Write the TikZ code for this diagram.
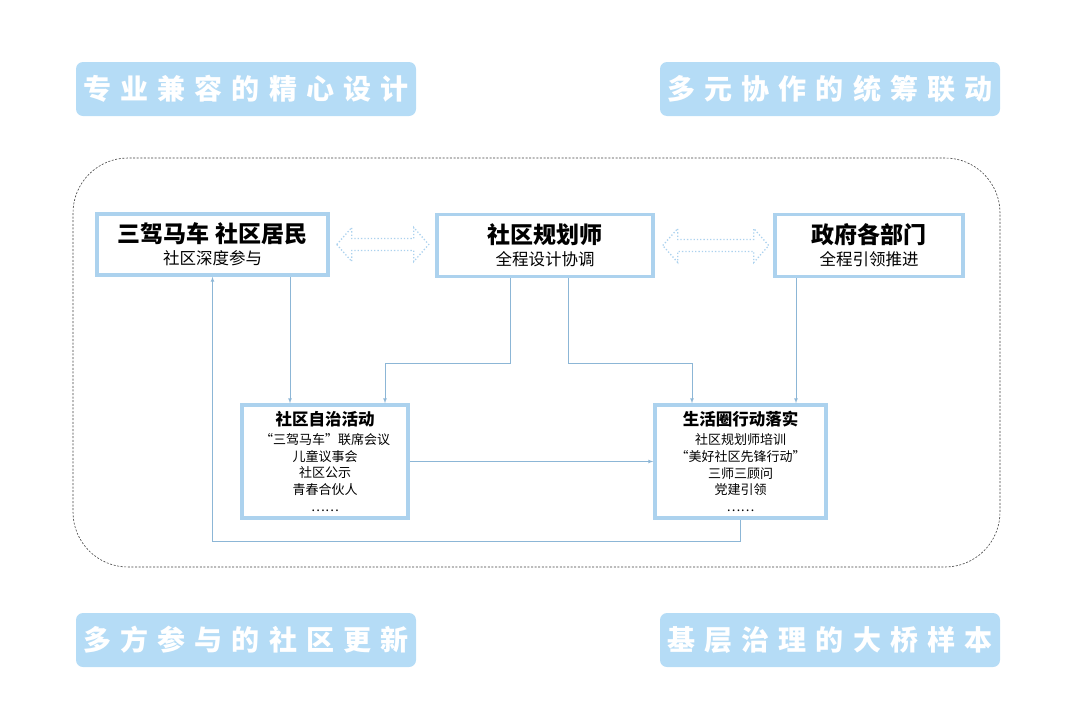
\documentclass[tikz,border=0pt]{standalone}
\usepackage{fontspec}
\usepackage{tikz}
\usetikzlibrary{positioning}
\setmainfont{Noto Sans CJK SC}
\newfontfamily\cjktag[LetterSpace=33]{Noto Sans CJK SC}
\definecolor{tagblue}{RGB}{181,220,246}
\definecolor{boxblue}{RGB}{172,210,238}
\definecolor{linkblue}{RGB}{140,182,214}

\tikzset{
  tag/.style={fill=tagblue, rounded corners=7, minimum width=340, minimum height=54,
    text=white, font=\cjktag\bfseries\fontsize{28}{30}\selectfont},
  box/.style={draw=boxblue, line width=3.5, fill=white, align=center, inner sep=0},
  link/.style={draw=linkblue, line width=0.7, ->, >=latex},
  twoway/.style={draw=boxblue, dotted, line width=1.3},
}
\newcommand\headline[2]{{\bfseries\fontsize{#1}{#1}\selectfont #2}}

\begin{document}
\begin{tikzpicture}[x=1pt,y=-1pt]
\useasboundingbox (0,0) rectangle (1080,726);

% corner captions
\node[tag] (capA) at (246,89) {专业兼容的精心设计};
\node[tag] (capB) at (830,89) {多元协作的统筹联动};
\node[tag] (capC) at (246,640) {多方参与的社区更新};
\node[tag] (capD) at (830,640) {基层治理的大桥样本};

\draw[black!75, dash pattern=on 2pt off 1.6pt, line width=0.6, rounded corners=55] (73,158) rectangle (1000,567);

% upper row
\node[box, minimum width=231, minimum height=61] (res) at (212.5,244.5)
  {\headline{23}{三驾马车 社区居民}\\[5pt]{\fontsize{16.5}{18}\selectfont 社区深度参与}};
\node[box, minimum width=216, minimum height=62] (plan) at (545,245.5)
  {\headline{23}{社区规划师}\\[5pt]{\fontsize{16.5}{18}\selectfont 全程设计协调}};
\node[box, minimum width=188, minimum height=62] (gov) at (869,245.5)
  {\headline{23}{政府各部门}\\[5pt]{\fontsize{16.5}{18}\selectfont 全程引领推进}};

% lower row
\node[box, minimum width=166, minimum height=113, font=\fontsize{13}{16.8}\selectfont] (auto) at (325,461.5)
  {\headline{16.5}{社区自治活动}\\[2pt]“三驾马车”联席会议\\儿童议事会\\社区公示\\青春合伙人\\……};
\node[box, minimum width=171, minimum height=113, font=\fontsize{13}{16.8}\selectfont] (life) at (740.5,461.5)
  {\headline{16.5}{生活圈行动落实}\\[2pt]社区规划师培训\\“美好社区先锋行动”\\三师三顾问\\党建引领\\……};

% hollow two-way arrows
\draw[twoway] ([xshift=7]res.east) -- ++(15,-17) -- ++(0,11) -- ++(62,0) -- ++(0,-11) -- ++(15,17)
  -- ++(-15,17) -- ++(0,-11) -- ++(-62,0) -- ++(0,11) -- cycle;
\draw[twoway] ([xshift=8]plan.east) -- ++(15,-17) -- ++(0,11) -- ++(76,0) -- ++(0,-11) -- ++(15,17)
  -- ++(-15,17) -- ++(0,-11) -- ++(-76,0) -- ++(0,11) -- cycle;

% connectors
\draw[link] ([xshift=77.5]res.south) -- ([xshift=-35]auto.north);
\draw[link] ([xshift=-35]plan.south) -- ++(0,85) -| ([xshift=60]auto.north);
\draw[link] ([xshift=23]plan.south) -- ++(0,85) -| ([xshift=-48.5]life.north);
\draw[link] ([xshift=-73]gov.south) -- ([xshift=-73]gov.south |- life.north);
\draw[link] (auto.east) -- (auto.east -| life.west);
\draw[link] (life.south) -- ++(0,22) -| (res.south);
\end{tikzpicture}
\end{document}
